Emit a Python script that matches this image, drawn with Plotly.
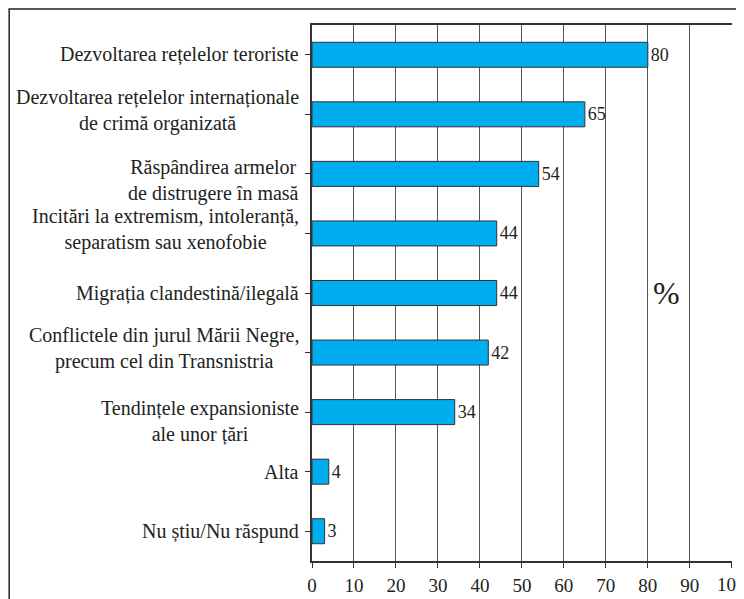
import plotly.graph_objects as go

categories = [
    "Dezvoltarea rețelelor teroriste",
    "Dezvoltarea rețelelor internaționale<br>de crimă organizată",
    "Răspândirea armelor<br>de distrugere în masă",
    "Incitări la extremism, intoleranță,<br>separatism sau xenofobie",
    "Migrația clandestină/ilegală",
    "Conflictele din jurul Mării Negre,<br>precum cel din Transnistria",
    "Tendințele expansioniste<br>ale unor țări",
    "Alta",
    "Nu știu/Nu răspund",
]
values = [80, 65, 54, 44, 44, 42, 34, 4, 3]
x_ticks = [0, 10, 20, 30, 40, 50, 60, 70, 80, 90, 100]
unit_label = "%"

# small vertical nudges (px) for category label blocks, layout only
label_dy = [0, 4, -7, 4, 0, 4, -9, 0, 0]

SERIF = "Liberation Serif"

ids = list(range(len(categories)))

fig = go.Figure()
fig.add_trace(go.Bar(
    y=ids, x=values, orientation="h",
    marker=dict(color="#00AEEF", line=dict(color="#333333", width=1)),
    text=[str(v) for v in values], textposition="outside",
    textfont=dict(family=SERIF, size=18, color="#222222"),
    cliponaxis=False, width=0.42, hoverinfo="skip",
))

annotations = []
for i, (c, dy) in enumerate(zip(categories, label_dy)):
    annotations.append(dict(
        x=0, xref="paper", y=i, yref="y", text=c, showarrow=False,
        xanchor="right", yanchor="middle", align="center",
        xshift=-11, yshift=dy,
        font=dict(family=SERIF, size=20, color="#222222"),
    ))
annotations.append(dict(
    x=84.5, xref="x", y=4, yref="y", text=unit_label, showarrow=False,
    font=dict(family=SERIF, size=32, color="#222222"),
))
# last tick label (at the page edge, plotly would otherwise drop it)
annotations.append(dict(
    x=x_ticks[-1], xref="x", y=0, yref="paper", text=str(x_ticks[-1]),
    showarrow=False, xanchor="center", yanchor="middle", yshift=-23,
    font=dict(family=SERIF, size=19, color="#222222"),
))

tick_text = [str(t) for t in x_ticks[:-1]] + [""]

fig.update_layout(
    width=736, height=591,
    margin=dict(l=304, r=12, t=17, b=38, autoexpand=False),
    paper_bgcolor="white", plot_bgcolor="white",
    showlegend=False,
    annotations=annotations,
    shapes=[dict(type="rect", xref="paper", yref="paper",
                 x0=-0.721, x1=1.2, y0=-0.2, y1=1.03,
                 line=dict(color="#222222", width=1.5), layer="below")],
    xaxis=dict(
        range=[0, 100.05], tickvals=x_ticks, ticktext=tick_text,
        showgrid=True, gridcolor="#555555", gridwidth=1,
        showline=True, linecolor="#333333", linewidth=1.5, mirror=True,
        ticks="outside", ticklen=5, tickcolor="#333333",
        ticklabelstandoff=1, automargin=False,
        tickfont=dict(family=SERIF, size=19, color="#222222"),
        zeroline=False, fixedrange=True,
    ),
    yaxis=dict(
        range=[len(categories) - 0.5, -0.5], tickvals=ids,
        showticklabels=False, tickson="boundaries", automargin=False,
        ticks="outside", ticklen=5, tickcolor="#333333",
        showline=True, linecolor="#333333", linewidth=1.5,
        showgrid=False, zeroline=False, fixedrange=True,
    ),
)

fig.write_html("out.html")
